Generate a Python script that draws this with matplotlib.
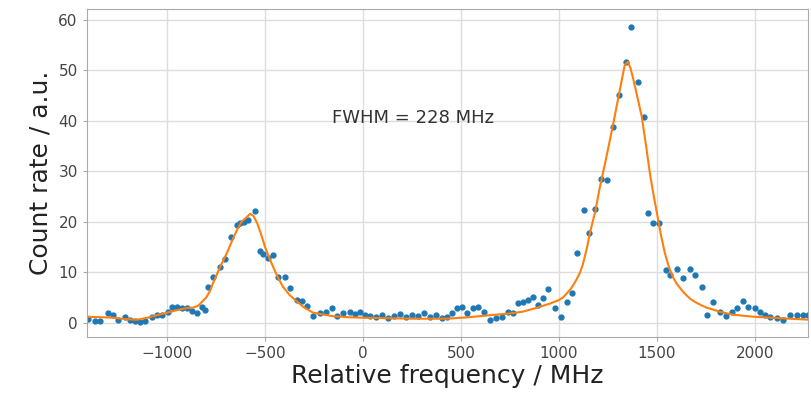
import numpy as np
from matplotlib import pyplot as plt

# measured points (relative frequency in MHz, count rate in a.u.)
freq = [-1403, -1367, -1341, -1300, -1275, -1250, -1214, -1188, -1163, -1137,
        -1112, -1076, -1051, -1025, -995, -974, -949, -923, -898, -872,
        -847, -821, -805, -791, -765, -729, -704, -673, -643, -627,
        -607, -587, -551, -525, -510, -485, -459, -434, -398, -372,
        -337, -311, -286, -255, -219, -189, -158, -133, -102, -66,
        -41, -15, 10, 36, 66, 97, 128, 158, 189, 219,
        250, 281, 311, 342, 372, 403, 428, 454, 479, 505,
        530, 561, 587, 617, 648, 678, 709, 740, 765, 791,
        816, 842, 867, 893, 918, 944, 979, 1010, 1040, 1066,
        1091, 1127, 1153, 1183, 1214, 1244, 1275, 1306, 1341, 1367,
        1403, 1433, 1454, 1479, 1510, 1545, 1566, 1601, 1632, 1668,
        1693, 1729, 1754, 1785, 1821, 1851, 1882, 1907, 1938, 1963,
        1999, 2025, 2050, 2076, 2111, 2142, 2178, 2213, 2244, 2270]
counts = [0.8, 0.3, 0.3, 2.0, 1.6, 0.5, 1.2, 0.6, 0.3, 0.1,
          0.3, 1.2, 1.5, 1.5, 2.2, 3.1, 3.2, 3.0, 3.0, 2.4,
          2.0, 3.2, 2.6, 7.1, 9.1, 11.0, 12.7, 17.0, 19.4, 19.8,
          20.0, 20.4, 22.2, 14.2, 13.7, 12.9, 13.5, 9.1, 9.1, 6.9,
          4.6, 4.4, 3.4, 1.4, 2.0, 2.2, 3.0, 1.4, 2.0, 2.2,
          1.8, 2.2, 1.6, 1.4, 1.2, 1.6, 1.0, 1.4, 1.8, 1.2,
          1.6, 1.4, 2.0, 1.2, 1.6, 1.0, 1.2, 2.0, 3.0, 3.2,
          2.0, 3.0, 3.2, 2.2, 0.6, 0.9, 1.1, 2.2, 2.0, 4.0,
          4.2, 4.6, 5.2, 3.6, 5.0, 6.6, 3.0, 1.2, 4.2, 5.9,
          13.8, 22.4, 17.8, 22.6, 28.5, 28.3, 38.8, 45.1, 51.7, 58.6,
          47.7, 40.8, 21.8, 19.8, 19.8, 10.5, 9.5, 10.7, 8.9, 10.7,
          9.5, 7.1, 1.6, 4.2, 2.2, 1.4, 2.2, 3.0, 4.4, 3.2,
          3.0, 2.2, 1.6, 1.2, 1.0, 0.6, 1.6, 1.6, 1.6, 1.6]

# fitted curve
fit_freq = [-1410, -1340, -1275, -1210, -1153, -1100, -1051, -1000, -949, -900,
            -867, -840, -821, -800, -780, -765, -730, -694, -660, -643,
            -620, -592, -576, -560, -541, -520, -500, -480, -459, -435,
            -408, -375, -337, -300, -255, -200, -153, -80, 0, 120,
            255, 428, 540, 648, 740, 816, 890, 954, 1000, 1020,
            1040, 1060, 1075, 1090, 1107, 1120, 1130, 1145, 1158, 1185,
            1209, 1235, 1260, 1280, 1301, 1320, 1336, 1352, 1365, 1377,
            1400, 1423, 1445, 1464, 1482, 1500, 1520, 1540, 1560, 1581,
            1600, 1630, 1652, 1675, 1700, 1725, 1754, 1820, 1887, 1990,
            2091, 2180, 2280]
fit_counts = [1.2, 1.1, 1.0, 0.7, 0.6, 1.0, 1.5, 2.0, 2.5, 2.9,
              3.0, 3.4, 4.2, 5.0, 6.4, 7.9, 11.0, 13.9, 17.0, 18.4,
              20.0, 21.0, 21.6, 21.2, 19.8, 17.5, 15.0, 13.0, 11.1, 9.0,
              7.1, 5.5, 4.2, 3.0, 2.0, 1.6, 1.3, 1.1, 1.0, 0.9,
              0.8, 0.8, 1.1, 1.5, 1.8, 2.2, 3.0, 3.8, 4.5, 5.0,
              5.8, 6.7, 7.6, 8.6, 9.9, 11.3, 12.8, 15.2, 17.8, 22.0,
              26.9, 31.5, 36.2, 40.0, 44.2, 48.0, 51.1, 51.7, 50.5, 48.7,
              44.8, 40.8, 35.0, 29.7, 25.5, 21.8, 17.5, 13.9, 11.2, 9.1,
              7.8, 6.3, 5.4, 4.6, 4.0, 3.5, 3.0, 2.2, 1.6, 1.2,
              1.0, 0.8, 0.6]

fig = plt.figure(figsize=(8.11, 3.94), dpi=100)
ax = fig.add_axes([0.107, 0.145, 0.889, 0.831])

ax.plot(freq, counts, '.', color='#1f77b4', ms=7)
ax.plot(fit_freq, fit_counts, '-', color='#ff7f0e', lw=1.5)

ax.text(-160, 40.6, "FWHM = 228 MHz", fontsize=13, color='#333333', va='center')

ax.set_xlim(-1410, 2270)
ax.set_ylim(-2.8, 62.1)
ax.set_xticks([-1000, -500, 0, 500, 1000, 1500, 2000])
ax.set_yticks([0, 10, 20, 30, 40, 50, 60])
ax.grid(color='#dddddd', lw=1)
ax.set_axisbelow(True)
for s in ax.spines.values():
    s.set_color('#aaaaaa')
ax.tick_params(colors='#aaaaaa', labelcolor='#444444', labelsize=11, length=3)
ax.set_xlabel("Relative frequency / MHz", fontsize=18, color='#222222', labelpad=2)
ax.set_ylabel("Count rate / a.u.", fontsize=18, color='#222222', labelpad=4)

plt.savefig('out.png')
